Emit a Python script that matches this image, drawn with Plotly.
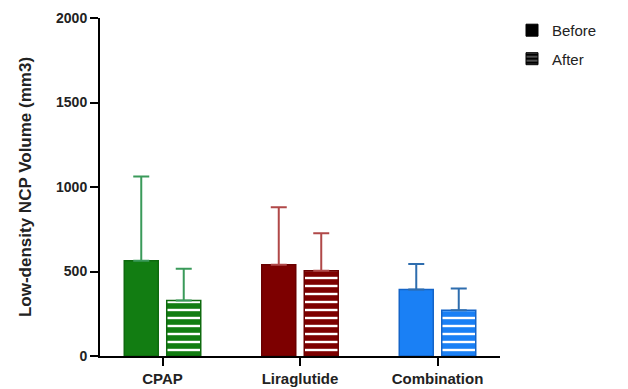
import plotly.graph_objects as go

categories = ["CPAP", "Liraglutide", "Combination"]
before_mean = [563, 540, 393]
before_err_top = [1062, 880, 545]
after_mean = [328, 504, 270]
after_err_top = [516, 727, 399]
bar_colors = ["#127D12", "#7D0000", "#1A80F5"]
edge_colors = ["#0E6A0E", "#6A0000", "#1464C8"]
err_colors = ["#3A9A5A", "#B04848", "#2E6DAE"]
y_ticks = [0, 500, 1000, 1500, 2000]

fig = go.Figure()

for i, cat in enumerate(categories):
    fig.add_trace(go.Bar(
        x=[cat], y=[before_mean[i]], name="Before", offsetgroup="before",
        showlegend=False,
        marker=dict(color=bar_colors[i], line=dict(color=edge_colors[i], width=1.5)),
        error_y=dict(type="data", symmetric=False,
                     array=[before_err_top[i] - before_mean[i]], arrayminus=[0],
                     color=err_colors[i], thickness=2, width=8),
    ))
    fig.add_trace(go.Bar(
        x=[cat], y=[after_mean[i]], name="After", offsetgroup="after",
        showlegend=False,
        marker=dict(color=bar_colors[i], line=dict(color=edge_colors[i], width=1.5),
                    pattern=dict(shape="-", fgcolor="white", bgcolor=bar_colors[i],
                                 size=8, solidity=0.3, fillmode="replace")),
        error_y=dict(type="data", symmetric=False,
                     array=[after_err_top[i] - after_mean[i]], arrayminus=[0],
                     color=err_colors[i], thickness=2, width=8),
    ))

# legend entries
fig.add_trace(go.Bar(x=[categories[0]], y=[None], name="Before", offsetgroup="before",
                     legendgroup="b",
                     marker=dict(color="black", line=dict(color="black", width=1))))
fig.add_trace(go.Bar(x=[categories[0]], y=[None], name="After", offsetgroup="after",
                     legendgroup="a",
                     marker=dict(color="black", line=dict(color="black", width=1),
                                 pattern=dict(shape="-", fgcolor="white", bgcolor="black",
                                              size=5, solidity=0.3))))

fig.update_layout(
    width=628, height=389,
    margin=dict(l=92, r=136, t=10, b=41, autoexpand=False),
    paper_bgcolor="white", plot_bgcolor="white",
    barmode="group", bargap=0.382, bargroupgap=0.2,
    font=dict(family="Arial, Liberation Sans, sans-serif", color="#222"),
    showlegend=True,
    legend=dict(x=1.03, y=1.012, xanchor="left", yanchor="top",
                font=dict(size=15, color="#222"), tracegroupgap=6,
                itemwidth=30, bgcolor="rgba(0,0,0,0)"),
    xaxis=dict(range=[-0.4545, 2.4545], showline=True, linecolor="black", linewidth=2,
               ticks="outside", ticklen=8, tickwidth=2, tickcolor="black",
               tickfont=dict(size=15, weight="bold", color="#222"), showgrid=False,
               automargin=False, ticklabeloverflow="allow"),
    yaxis=dict(range=[0, 2000], tickvals=y_ticks, showline=True, linecolor="black", linewidth=2,
               ticks="outside", ticklen=8, tickwidth=2, tickcolor="black",
               tickfont=dict(size=14, weight="bold", color="#222"), showgrid=False, zeroline=False,
               automargin=False, ticklabeloverflow="allow",
               title=dict(text="Low-density NCP Volume (mm3)",
                          font=dict(size=17, weight="bold", color="#222"),
                          standoff=20)),
)

fig.write_html("out.html")
